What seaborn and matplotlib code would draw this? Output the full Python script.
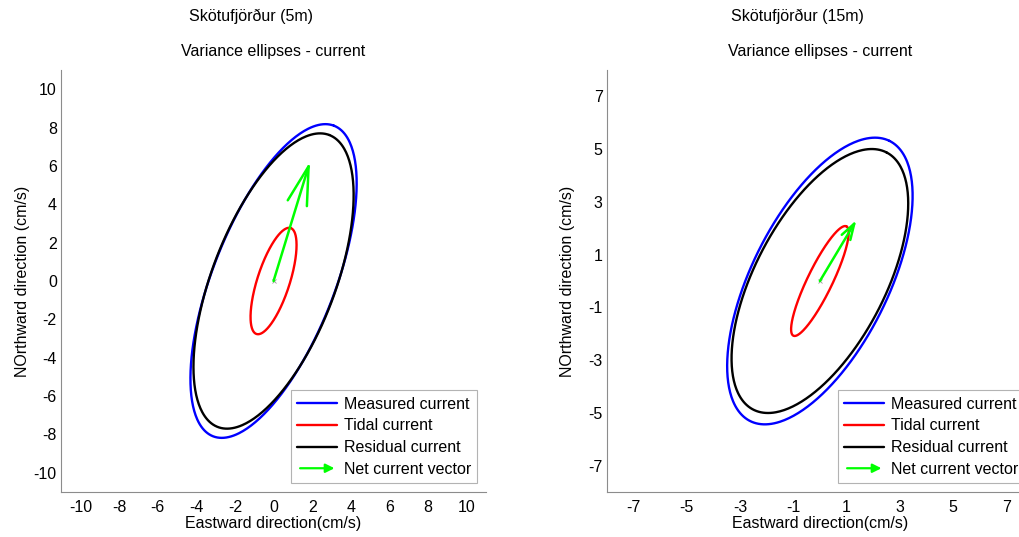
import numpy as np
import matplotlib
matplotlib.use("Agg")
import matplotlib.pyplot as plt
import seaborn as sns
from matplotlib.lines import Line2D
from matplotlib.patches import FancyArrowPatch
from matplotlib.legend_handler import HandlerPatch

# --- data --------------------------------------------------------------
stations = ["Skötufjörður (5m)", "Skötufjörður (15m)"]
series = ["Measured current", "Tidal current", "Residual current"]
colors = ["#0000ff", "#ff0000", "#000000"]

# variance ellipse parameters: semi-major, semi-minor (cm/s), orientation (deg from east)
major_5m = [8.68, 2.90, 8.14]
minor_5m = [3.17, 0.84, 3.19]
angle_5m = [68.9, 72.3, 69.3]

major_15m = [5.92, 2.30, 5.48]
minor_15m = [2.57, 0.47, 2.45]
angle_15m = [63.9, 64.4, 62.9]

# net current vector (east, north) in cm/s
net_u = [1.89, 1.37]
net_v = [6.23, 2.31]

lims = [11, 8]
ticks_5m = [-10, -8, -6, -4, -2, 0, 2, 4, 6, 8, 10]
ticks_15m = [-7, -5, -3, -1, 1, 3, 5, 7]

sns.set_style("white")
plt.rcParams["font.family"] = ["Liberation Sans", "DejaVu Sans"]
plt.rcParams["font.size"] = 11.5
plt.rcParams["axes.unicode_minus"] = False
plt.rcParams["text.color"] = "black"
plt.rcParams["axes.labelcolor"] = "black"

GREY = "#8c8c8c"
GREEN = "#00ff00"


def ellipse_xy(a, b, ang):
    t = np.linspace(0, 2 * np.pi, 361)
    th = np.deg2rad(ang)
    x = a * np.cos(t) * np.cos(th) - b * np.sin(t) * np.sin(th)
    y = a * np.cos(t) * np.sin(th) + b * np.sin(t) * np.cos(th)
    return x, y


def arrow_handle(legend, orig_handle, xdescent, ydescent, width, height, fontsize):
    p = FancyArrowPatch((-xdescent, height / 2 - ydescent),
                        (width - xdescent, height / 2 - ydescent),
                        arrowstyle="-|>", mutation_scale=13)
    return p


fig = plt.figure(figsize=(10.19, 5.37), dpi=100)
ax1 = fig.add_axes([0.0599, 0.0838, 0.4171, 0.7858])
ax2 = fig.add_axes([0.5954, 0.0838, 0.4184, 0.7858])

panels = [
    (ax1, major_5m, minor_5m, angle_5m, ticks_5m, (27.8, 7.2)),
    (ax2, major_15m, minor_15m, angle_15m, ticks_15m, (11.5, 3.6)),
]

for i, (ax, maj, mnr, ang, tks, head) in enumerate(panels):
    # measured first, tidal, then residual on top
    for j in [0, 1, 2]:
        x, y = ellipse_xy(maj[j], mnr[j], ang[j])
        sns.lineplot(x=x, y=y, sort=False, estimator=None, color=colors[j],
                     lw=1.7, ax=ax)
    ax.plot([0], [0], marker="x", ms=3, mew=0.6, color="#999999")
    ax.annotate("", xy=(net_u[i], net_v[i]), xytext=(0, 0),
                arrowprops=dict(arrowstyle="->,head_length=%g,head_width=%g" % head,
                                mutation_scale=1, color=GREEN, lw=1.8,
                                shrinkA=0, shrinkB=0))

    ax.set_xlim(-lims[i], lims[i])
    ax.set_ylim(-lims[i], lims[i])
    ax.set_xticks(tks)
    ax.set_yticks(tks)
    for side in ["top", "right"]:
        ax.spines[side].set_visible(False)
    for side in ["left", "bottom"]:
        ax.spines[side].set_color(GREY)
        ax.spines[side].set_linewidth(0.8)
    ax.tick_params(axis="both", direction="in", length=3, width=0.6, color=GREY,
                   labelcolor="black", labelsize=11.5)
    ax.tick_params(axis="x", pad=6)
    ax.tick_params(axis="y", pad=3)

    ax.set_xlabel("Eastward direction(cm/s)")
    ax.set_ylabel("NOrthward direction (cm/s)")
    ax.xaxis.set_label_coords(0.5, -0.057)
    ax.yaxis.set_label_coords(-0.074, 0.5)

    ax.text(0.5, 1.043, "Variance ellipses - current", transform=ax.transAxes,
            ha="center", va="center")
    ax.text(0.448, 1.127, stations[i], transform=ax.transAxes,
            ha="center", va="center")

    handles = [Line2D([], [], color=c, lw=1.7) for c in colors]
    handles.append(FancyArrowPatch((0, 0), (1, 0), arrowstyle="-|>",
                                   mutation_scale=13, color=GREEN, lw=1.6))
    leg = ax.legend(handles, series + ["Net current vector"], loc="lower right",
                    handlelength=2.5, handletextpad=0.4, labelspacing=0.42,
                    borderpad=0.4, borderaxespad=0.55, fancybox=False,
                    frameon=True, fontsize=11.5,
                    handler_map={FancyArrowPatch: HandlerPatch(patch_func=arrow_handle)})
    leg.get_frame().set_edgecolor("#a0a0a0")
    leg.get_frame().set_linewidth(0.8)

fig.savefig("out.png", dpi=100)
